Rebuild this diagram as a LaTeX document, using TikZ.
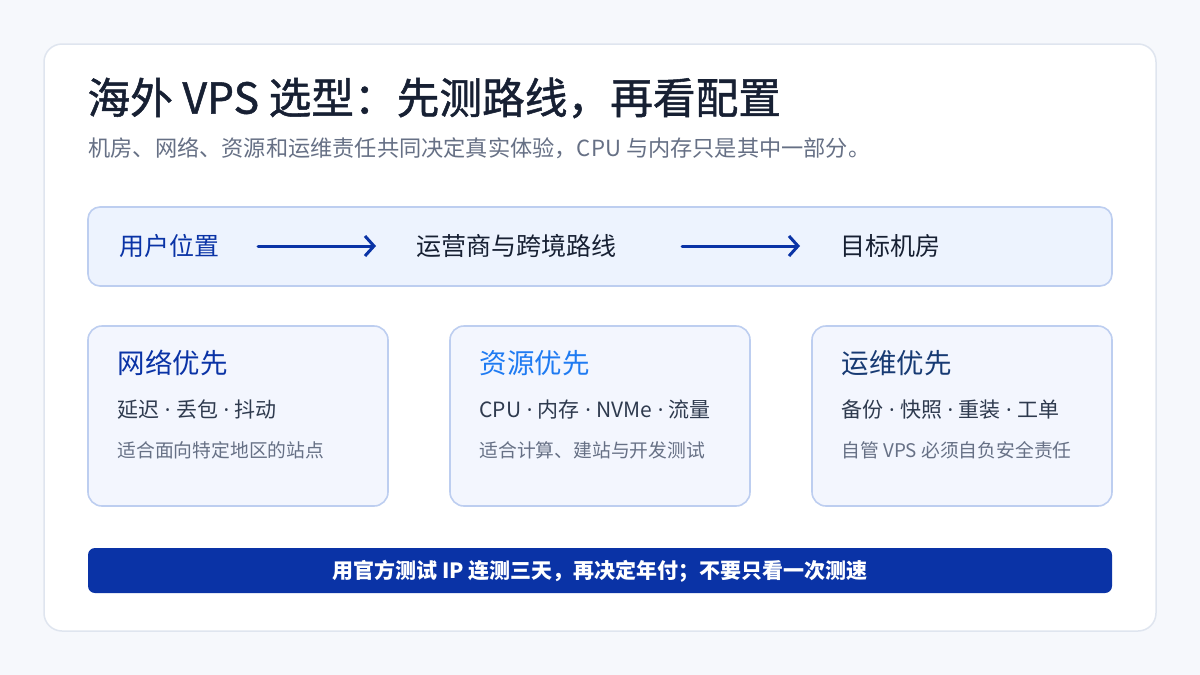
\documentclass[tikz,border=0pt]{standalone}
\usepackage{fontspec}
\setmainfont{Noto Sans CJK SC}
\newfontfamily\heavyfont[FakeBold=1.2]{Noto Sans CJK SC}
\newfontfamily\latinfont{Noto Sans}
\newcommand{\middot}{{\latinfont{} · }}
\usepackage{xcolor}
\definecolor{pagebg}{HTML}{F6F8FC}
\definecolor{cardline}{HTML}{DFE5EF}
\definecolor{ink}{HTML}{172033}
\definecolor{muted}{HTML}{667085}
\definecolor{body}{HTML}{2E3A4E}
\definecolor{flowfill}{HTML}{EDF3FE}
\definecolor{flowline}{HTML}{BDCEF0}
\definecolor{boxfill}{HTML}{F3F6FE}
\definecolor{accent}{HTML}{0A33A6}
\definecolor{bright}{HTML}{1F7BF2}
\definecolor{navy}{HTML}{173A73}
\usepackage{tikz}
\usetikzlibrary{positioning,arrows.meta}

\begin{document}
\begin{tikzpicture}[x=1pt, y=-1pt, >={Straight Barb[length=9pt,width=20pt,line width=3pt]},
  panel/.style={draw=flowline, line width=1.6pt, fill=boxfill, rounded corners=14pt},
  head/.style={anchor=west, font=\fontsize{27.5}{32}\selectfont},
  keys/.style={anchor=west, text=body, font=\fontsize{21}{25}\selectfont},
  note/.style={anchor=west, text=muted, font=\fontsize{18.8}{22}\selectfont},
  flowtext/.style={anchor=west, font=\fontsize{25}{29}\selectfont},
  flowarrow/.style={->, accent, line width=3pt, line cap=round}]
\useasboundingbox[fill=pagebg] (0,0) rectangle (1200,675);
\draw[cardline, line width=1.5pt, fill=white, rounded corners=18pt] (44,44) rectangle (1156,631);
\node[anchor=west, text=ink, font=\heavyfont\fontsize{42.7}{48}\selectfont] (title) at (84,98) {海外 VPS 选型：先测路线，再看配置};
\node[anchor=west, text=muted, font=\fontsize{22.2}{26}\selectfont] (subtitle) at (85,148) {机房、网络、资源和运维责任共同决定真实体验，CPU 与内存只是其中一部分。};
% route bar
\draw[draw=flowline, line width=1.6pt, fill=flowfill, rounded corners=12pt] (88,207) rectangle (1112,286);
\node[flowtext, text=accent] (user) at (116,246) {用户位置};
\node[flowtext, text=ink] (carrier) at (413,246) {运营商与跨境路线};
\node[flowtext, text=ink] (dc) at (837,246) {目标机房};
\coordinate (a1) at (258,246);
\coordinate (b1) at (376,246);
\coordinate (a2) at (682,246);
\coordinate (b2) at (800,246);
\draw[flowarrow] (a1) -- (b1);
\draw[flowarrow] (a2) -- (b2);
% three priority cards
\foreach \x/\col/\h/\k/\n in {88/accent/网络优先/延迟\middot 丢包\middot 抖动/适合面向特定地区的站点,
  450/bright/资源优先/CPU\middot 内存\middot NVMe\middot 流量/适合计算、建站与开发测试,
  812/navy/运维优先/备份\middot 快照\middot 重装\middot 工单/自管 VPS 必须自负安全责任} {
  \draw[panel] (\x,326) rectangle ++(300,180);
  \node[head, text=\col] (head\x) at (\x+26,363) {\h};
  \node[keys] (keys\x) at (\x+26,410) {\k};
  \node[note] (note\x) at (\x+26,450) {\n};
}
% bottom advice
\fill[accent, rounded corners=7pt] (88,548) rectangle (1112,593);
\node[text=white, font=\bfseries\fontsize{21}{25}\selectfont] (advice) at (600,571) {用官方测试 IP 连测三天，再决定年付；不要只看一次测速};
\end{tikzpicture}
\end{document}
